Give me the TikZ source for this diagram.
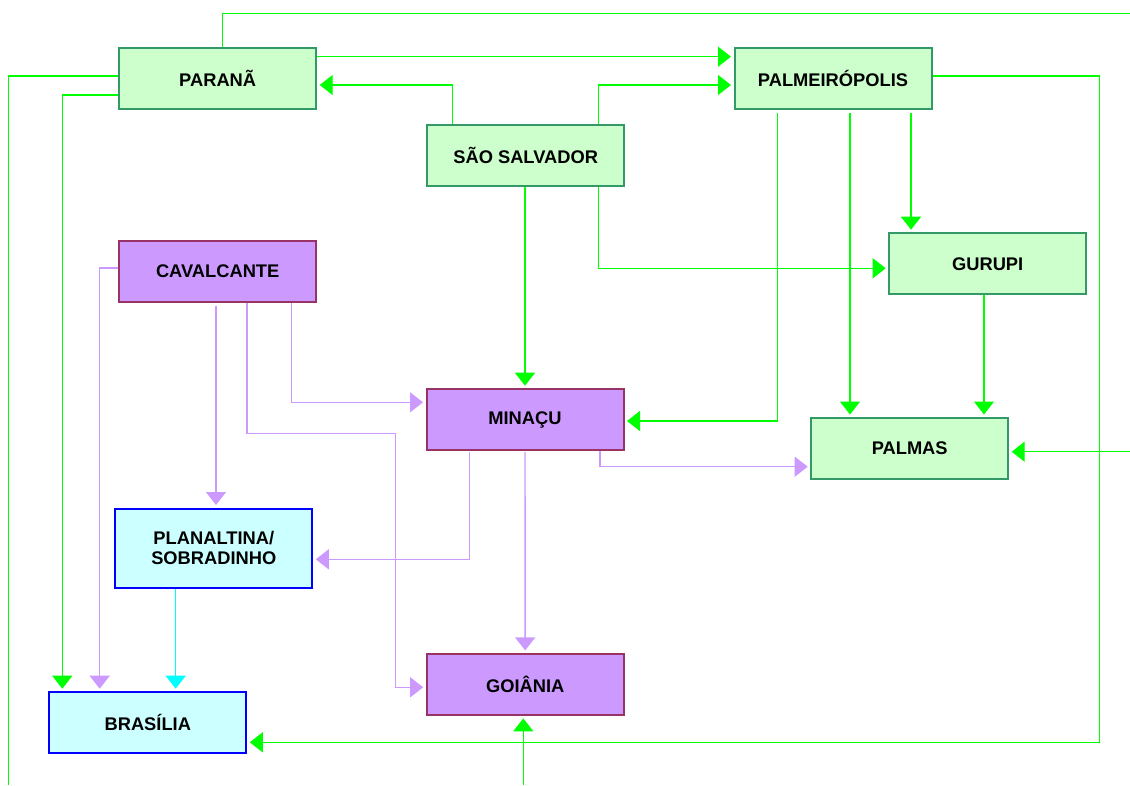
\documentclass[tikz,border=0pt]{standalone}
\usepackage{fontspec}
\setmainfont{Liberation Sans}
\usetikzlibrary{arrows.meta}
\definecolor{gfill}{HTML}{CCFFCC}
\definecolor{gdraw}{HTML}{339966}
\definecolor{pfill}{HTML}{CC99FF}
\definecolor{pdraw}{HTML}{993366}
\definecolor{cfill}{HTML}{CCFFFF}
\definecolor{cdraw}{HTML}{0000FF}
\definecolor{gline}{HTML}{00FF00}
\definecolor{pline}{HTML}{CC99FF}
\definecolor{cline}{HTML}{00FFFF}
\tikzset{
  box/.style={rectangle, inner sep=0pt, minimum width=197pt, minimum height=61pt, line width=2pt,
    font=\fontsize{18.3}{20.7}\selectfont\bfseries, align=center},
  gbox/.style={box, fill=gfill, draw=gdraw},
  pbox/.style={box, fill=pfill, draw=pdraw},
  cbox/.style={box, fill=cfill, draw=cdraw},
  link/.style={line width=1.4pt},
  glink/.style={link, draw=gline},
  plink/.style={link, draw=pline},
  clink/.style={link, draw=cline},
  tipg/.style={-{Triangle[width=20pt,length=13pt,fill=gline,color=gline]}, shorten >=2.5pt},
  tipp/.style={-{Triangle[width=20pt,length=13pt,fill=pline,color=pline]}, shorten >=2.5pt},
  tipc/.style={-{Triangle[width=20pt,length=13pt,fill=cline,color=cline]}, shorten >=2.5pt},
}
\begin{document}
\begin{tikzpicture}[x=1pt,y=-1pt]
\useasboundingbox (0,0) rectangle (1130,785);
% nodes
\node[gbox] (parana) at (217.7,78.7) {PARANÃ};
\node[gbox] (palm) at (833,78.7) {PALMEIRÓPOLIS};
\node[gbox] (sao) at (525.7,155.7) {SÃO SALVADOR};
\node[pbox] (caval) at (217.7,271) {CAVALCANTE};
\node[gbox] (gurupi) at (987.7,263.7) {GURUPI};
\node[pbox] (minacu) at (525,419.7) {MINAÇU};
\node[gbox] (palmas) at (909.7,448.5) {PALMAS};
\node[cbox, minimum height=79pt] (plan) at (213.8,548) {PLANALTINA/\\SOBRADINHO};
\node[cbox] (bras) at (147.8,722.7) {BRASÍLIA};
\node[pbox] (goian) at (525.2,684.4) {GOIÂNIA};
% free ends and bends
\coordinate (e1) at (1130,13.3);
\coordinate (e5) at (8.3,785);
\coordinate (k7) at (1099.3,742.3);
\coordinate (e14) at (1130,451.7);
\coordinate (e15) at (523.3,785);
\coordinate (k18) at (395.3,433.3);
% green connectors
\draw[glink] ([xshift=5pt]parana.north) |- (e1);
\draw[glink,tipg] ([yshift=22pt]parana.east) -- ([yshift=22pt]palm.west);
\draw[glink,tipg] ([xshift=-73.4pt]sao.north) |- ([yshift=-6.3pt]parana.east);
\draw[glink,tipg] ([xshift=72.6pt]sao.north) |- ([yshift=-6.3pt]palm.west);
\draw[glink] ([yshift=2.7pt]parana.west) -| (e5);
\draw[glink,tipg] ([yshift=-16.3pt]parana.west) -| ([xshift=-85.5pt]bras.north);
\draw[glink,tipg] ([yshift=2.7pt]palm.east) -| (k7) -- ([yshift=-19.6pt]bras.east);
\draw[glink,tipg] ([xshift=17pt,yshift=-3pt]palm.south) -- ([xshift=-59.7pt]palmas.north);
\draw[glink,tipg] ([xshift=78pt,yshift=-3pt]palm.south) -- ([xshift=-76.7pt]gurupi.north);
\draw[glink,tipg] ([xshift=-55.7pt,yshift=-3pt]palm.south) |- ([yshift=-1.3pt]minacu.east);
\draw[glink,tipg] (sao.south -| minacu.north) -- (minacu.north);
\draw[glink,tipg] ([xshift=72.6pt]sao.south) |- ([yshift=-4.6pt]gurupi.west);
\draw[glink,tipg] ([xshift=-3.7pt]gurupi.south) -- ([xshift=74.3pt]palmas.north);
\draw[glink,tipg] (e14) -- ([yshift=-3.2pt]palmas.east);
\draw[glink,tipg] (e15) -- ([xshift=-1.9pt]goian.south);
% purple connectors
\draw[plink,tipp] ([yshift=3pt]caval.west) -| ([xshift=-48.1pt]bras.north);
\draw[plink,tipp] ([xshift=-1.7pt,yshift=-3pt]caval.south) -- ([xshift=2.2pt]plan.north);
\draw[plink,tipp] ([xshift=29.3pt]caval.south) |- (k18) |- ([yshift=-2.9pt]goian.west);
\draw[plink,tipp] ([xshift=74pt]caval.south) |- ([yshift=17.4pt]minacu.west);
\draw[plink,tipp] ([xshift=-55.7pt,yshift=-1pt]minacu.south) |- ([yshift=-11.3pt]plan.east);
\draw[plink,tipp] ([yshift=-1pt]minacu.south) -- (goian.north);
\draw[plink,tipp] ([xshift=75pt]minacu.south) |- ([yshift=-18.2pt]palmas.west);
% cyan connector
\draw[clink,tipc] ([xshift=-38.1pt]plan.south) -- ([xshift=27.9pt]bras.north);
\end{tikzpicture}
\end{document}
